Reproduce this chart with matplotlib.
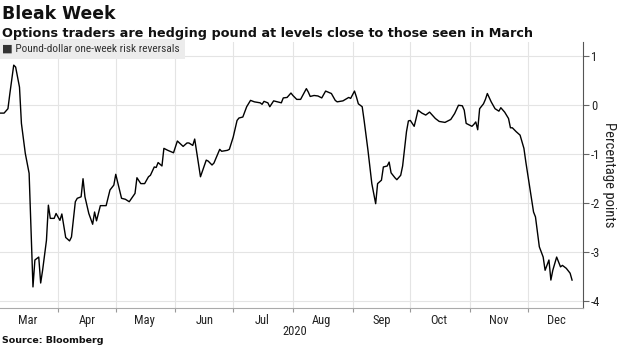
import matplotlib
matplotlib.use("Agg")
import matplotlib.pyplot as plt
import matplotlib.dates as mdates
import matplotlib.transforms as mtransforms
from matplotlib import font_manager
import pandas as pd

plt.rcParams['axes.unicode_minus'] = False

# pick a narrow face for the axis text if one is around
names = {f.name for f in font_manager.fontManager.ttflist}
narrow = 'DejaVu Sans'
for cand in ['Roboto Condensed', 'Liberation Sans Narrow', 'Roboto']:
    if cand in names:
        narrow = cand
        break

# pound-dollar one-week risk reversals, 2020
dates = ["03-02", "03-04", "03-06", "03-07", "03-09", "03-10", "03-12", "03-13", "03-15", "03-17",
         "03-19", "03-20", "03-22", "03-23", "03-24", "03-26", "03-27", "03-28", "03-30", "03-31",
         "04-02", "04-03", "04-05", "04-07", "04-08", "04-10", "04-11", "04-13", "04-14", "04-15",
         "04-17", "04-19", "04-20", "04-21", "04-23", "04-26", "04-28", "04-30", "05-01", "05-04",
         "05-06", "05-08", "05-11", "05-12", "05-14", "05-16", "05-18", "05-19", "05-21", "05-22",
         "05-23", "05-25", "05-26", "05-28", "05-31", "06-02", "06-05", "06-07", "06-08", "06-10",
         "06-11", "06-14", "06-17", "06-18", "06-20", "06-21", "06-24", "06-25", "06-28", "06-29",
         "07-01", "07-03", "07-04", "07-06", "07-08", "07-10", "07-12", "07-15", "07-16", "07-17",
         "07-19", "07-20", "07-22", "07-24", "07-26", "07-27", "07-29", "07-31", "08-01", "08-03",
         "08-05", "08-08", "08-09", "08-10", "08-12", "08-14", "08-16", "08-18", "08-21", "08-23",
         "08-24", "08-27", "08-30", "08-31", "09-02", "09-03", "09-04", "09-06", "09-07", "09-09",
         "09-11", "09-13", "09-14", "09-16", "09-17", "09-19", "09-20", "09-21", "09-23", "09-24",
         "09-26", "09-27", "09-29", "09-30", "10-01", "10-03", "10-04", "10-05", "10-07", "10-09",
         "10-11", "10-14", "10-16", "10-19", "10-22", "10-24", "10-26", "10-28", "10-29", "10-30",
         "10-31", "11-02", "11-03", "11-04", "11-05", "11-06", "11-08", "11-09", "11-10", "11-12",
         "11-14", "11-16", "11-17", "11-19", "11-21", "11-22", "11-23", "11-25", "11-27", "11-29",
         "11-30", "12-02", "12-04", "12-05", "12-06", "12-07", "12-09", "12-10", "12-12", "12-13",
         "12-14", "12-16", "12-18", "12-19", "12-21", "12-23", "12-24"]
values = [-0.16, -0.16, -0.07, 0.24, 0.82, 0.78, 0.37, -0.37, -0.98, -1.39,
          -3.71, -3.16, -3.10, -3.63, -3.37, -2.76, -2.04, -2.31, -2.31, -2.21,
          -2.35, -2.22, -2.70, -2.77, -2.69, -1.97, -1.90, -1.87, -1.50, -1.87,
          -2.21, -2.43, -2.18, -2.36, -2.05, -2.05, -1.73, -1.63, -1.41, -1.90,
          -1.92, -1.97, -1.80, -1.48, -1.60, -1.60, -1.46, -1.43, -1.26, -1.27,
          -1.17, -1.24, -0.88, -0.92, -0.97, -0.73, -0.84, -0.77, -0.77, -0.82,
          -0.69, -1.46, -1.12, -1.14, -1.22, -1.18, -0.90, -0.94, -0.92, -0.90,
          -0.65, -0.31, -0.26, -0.24, -0.03, 0.10, 0.07, 0.05, 0.02, 0.08,
          0.05, -0.03, 0.09, 0.07, 0.05, 0.15, 0.16, 0.25, 0.20, 0.12,
          0.12, 0.34, 0.27, 0.18, 0.20, 0.19, 0.15, 0.29, 0.24, 0.10,
          0.07, 0.09, 0.16, 0.14, 0.29, 0.17, 0.03, -0.03, -0.31, -0.92,
          -1.60, -2.01, -1.60, -1.53, -1.26, -1.24, -1.16, -1.38, -1.48, -1.52,
          -1.43, -1.24, -0.54, -0.32, -0.31, -0.43, -0.27, -0.10, -0.16, -0.20,
          -0.14, -0.27, -0.33, -0.35, -0.29, -0.17, 0.00, -0.01, -0.10, -0.37,
          -0.39, -0.43, -0.39, -0.34, -0.50, -0.07, 0.03, 0.12, 0.24, 0.07,
          -0.07, -0.12, -0.05, -0.14, -0.27, -0.46, -0.46, -0.54, -0.61, -0.88,
          -1.16, -1.67, -2.18, -2.28, -2.59, -2.89, -3.10, -3.37, -3.16, -3.57,
          -3.37, -3.10, -3.30, -3.27, -3.33, -3.43, -3.57]
yticks = [1, 0, -1, -2, -3, -4]

x = pd.to_datetime(["2020-" + d for d in dates])

fig = plt.figure(figsize=(6.2, 3.48), dpi=100)
ax = fig.add_axes([0.0, 0.115, 0.940, 0.764])

ax.plot(x, values, color='black', linewidth=1.0, zorder=3)

ax.set_xlim(pd.Timestamp("2020-03-01 21:00"), pd.Timestamp("2020-12-29 14:00"))
ax.set_ylim(-4.14, 1.29)

# month starts get the grid + tick, month middles get the label
ax.xaxis.set_major_locator(mdates.MonthLocator())
ax.xaxis.set_major_formatter(plt.NullFormatter())
ax.xaxis.set_minor_locator(mdates.MonthLocator(bymonthday=16))
ax.xaxis.set_minor_formatter(mdates.DateFormatter('%b'))
ax.tick_params(axis='x', which='major', length=3, color='#999999', direction='out')
ax.tick_params(axis='x', which='minor', length=0, pad=4, labelsize=9, labelcolor='#222222')

ax.yaxis.tick_right()
ax.set_yticks(yticks)
ax.set_yticklabels([str(v) for v in yticks])
ax.tick_params(axis='y', length=4, color='#666666', pad=2, labelsize=9, labelcolor='#222222')
ax.yaxis.set_label_position('right')
ax.set_ylabel('Percentage points', rotation=270, labelpad=11, fontsize=10.5, color='#222222',
              family=narrow)

for lab in ax.get_xticklabels(minor=True) + ax.get_yticklabels():
    lab.set_family(narrow)

ax.grid(True, which='major', color='#e4e4e4', linewidth=0.8, zorder=0)

for s in ['top', 'left']:
    ax.spines[s].set_visible(False)
ax.spines['right'].set_color('#555555')
ax.spines['right'].set_linewidth(0.8)
ax.spines['bottom'].set_color('#aaaaaa')
ax.spines['bottom'].set_linewidth(0.8)

trans = mtransforms.blended_transform_factory(ax.transData, ax.transAxes)
ax.text(pd.Timestamp("2020-08-02"), -0.065, '2020', transform=trans, ha='center', va='top',
        fontsize=9, color='#222222', family=narrow)

# legend tab in the top-left corner
ax.text(0.004, 0.993, '\u25a0 Pound-dollar one-week risk reversals', transform=ax.transAxes,
        ha='left', va='top', fontsize=8.2, color='#333333', family=[narrow, 'DejaVu Sans'],
        zorder=4,
        bbox=dict(boxstyle='square,pad=0.4', facecolor='#ececec', edgecolor='none'))

fig.text(0.003, 0.945, 'Bleak Week', fontsize=12.4, fontweight='bold', color='#111111', va='baseline')
fig.text(0.003, 0.895, 'Options traders are hedging pound at levels close to those seen in March',
         fontsize=9.2, fontweight='bold', color='#111111', va='baseline')
fig.text(0.003, 0.015, 'Source: Bloomberg', fontsize=6.8, fontweight='bold', color='#111111',
         va='baseline')

fig.savefig('out.png', dpi=100)
